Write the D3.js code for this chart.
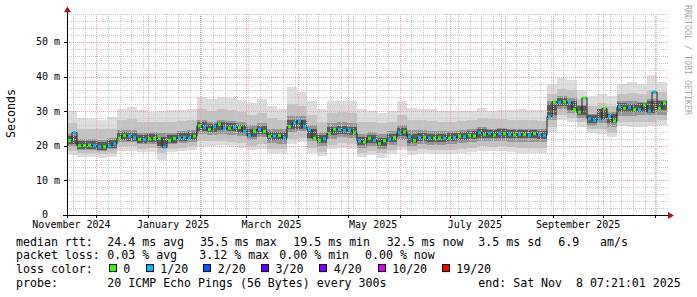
<!DOCTYPE html>
<html><head><meta charset="utf-8">
<script src="https://cdn.jsdelivr.net/npm/d3@7/dist/d3.min.js"></script>
<style>
html,body{margin:0;padding:0;background:#fff;}
svg text{font-family:"DejaVu Sans Mono",monospace;}
</style></head><body>
<svg id="chart" width="697" height="297"></svg>
<script>
// ---------------- data ----------------
const startTime = "2024-11-13T07:21:01Z";
const endTime = "2025-11-08T07:21:01Z";
const medianStepDays = 3;
const smokeStepDays = 6;

// median RTT (ms), one value per 3 days
const medianRtt = [
21.5,23.8,20.0,20.1,20.2,20.0,19.7,19.7,20.0,20.6,
22.2,23.0,22.9,22.3,21.9,21.8,22.0,22.1,22.2,19.6,
21.5,22.1,22.3,22.4,22.2,22.8,25.8,25.3,24.7,25.5,
26.3,25.0,25.1,25.4,25.3,24.2,23.0,24.3,24.8,24.2,
22.7,22.8,23.0,22.3,25.5,26.6,27.2,25.4,24.6,22.2,
21.5,22.0,23.6,24.8,24.7,24.4,24.6,23.8,21.4,21.1,
22.2,21.5,20.6,21.5,21.9,22.4,23.8,24.0,22.6,21.4,
22.4,22.5,22.2,22.2,22.3,22.2,22.2,22.4,22.8,22.6,
23.0,22.8,23.8,23.2,23.6,23.1,23.5,23.5,23.3,23.1,
23.3,23.2,23.1,23.5,23.2,23.0,28.5,32.7,32.5,32.7,
32.5,30.5,29.7,33.8,27.8,27.4,27.7,30.8,28.5,27.2,
31.2,30.8,31.2,30.5,30.5,31.8,30.0,35.5,30.8,32.5];

// loss class of each median value (index into lossColors)
const lossClass = [
0,1,0,0,0,1,1,0,1,1,0,0,1,1,0,1,0,0,0,1,0,0,1,1,1,0,0,1,0,1,
0,1,0,1,0,1,1,0,1,0,0,1,0,1,0,1,1,1,1,0,0,1,0,0,1,1,1,0,1,0,
0,1,0,0,1,0,1,0,1,0,1,0,1,0,0,1,0,1,0,1,0,0,1,0,1,0,1,0,1,0,
1,0,1,0,1,1,1,0,1,0,1,0,0,0,1,1,1,0,1,0,1,0,1,0,1,0,1,1,0,0];

// smoke envelopes (ms), one value per 6 days, outermost to innermost
const smokeMax = [30.0,27.9,27.8,27.6,28.2,30.5,31.3,30.3,29.9,30.0,30.3,30.3,30.5,34.0,33.5,34.0,33.8,33.3,32.5,33.5,31.5,30.5,37.0,35.5,33.0,30.5,33.0,33.0,33.0,30.5,30.0,29.5,30.0,33.0,31.0,30.5,30.5,30.0,30.0,30.2,30.2,31.0,30.2,30.3,30.3,30.5,30.3,30.3,38.0,39.5,39.0,36.0,34.5,35.0,34.5,38.0,38.5,38.0,40.5,38.5];
const smokeHigh = [26.5,25.0,25.0,24.8,25.0,27.5,27.8,27.0,27.0,27.0,27.0,27.2,27.5,30.5,30.0,30.5,30.3,29.8,29.0,29.5,28.0,27.5,32.0,31.5,29.0,27.0,29.5,29.8,29.5,27.0,26.8,26.5,27.0,29.0,27.5,27.5,27.3,27.0,27.0,27.3,27.5,28.0,27.8,27.8,27.6,27.6,27.5,27.3,35.0,36.5,36.0,33.5,31.5,32.5,31.5,35.0,35.3,35.0,36.0,35.5];
const smokeCoreHigh = [23.5,22.0,22.0,21.8,22.2,24.5,24.5,23.8,23.9,23.8,23.8,24.2,24.5,27.5,27.0,27.5,27.2,26.8,26.0,26.5,25.0,24.8,28.5,28.5,26.0,24.0,26.5,26.8,26.5,23.5,24.0,23.5,24.2,26.0,24.5,24.5,24.3,24.2,24.3,24.6,24.8,25.3,25.0,25.2,25.0,25.0,25.0,24.8,33.0,34.3,33.8,31.8,29.3,30.5,29.8,33.0,33.0,32.8,33.5,33.2];
const smokeInnerHigh = [22.8,21.3,21.3,21.0,21.6,23.9,23.8,23.1,23.3,22.6,23.1,23.6,23.9,26.8,26.4,26.9,26.6,26.0,25.0,25.8,24.0,24.0,27.5,27.6,24.9,23.0,25.5,25.8,25.4,22.6,23.0,22.3,23.4,25.1,23.3,23.7,23.5,23.5,23.6,24.0,24.2,24.8,24.6,24.8,24.5,24.5,24.6,24.4,32.2,33.9,32.9,31.5,29.0,30.6,29.3,32.3,32.1,32.4,33.0,33.0];
const smokeInnerLow = [20.5,19.1,19.1,18.8,19.3,21.6,21.5,20.9,21.0,20.0,20.8,21.3,21.6,24.4,24.0,24.5,24.2,23.6,22.6,23.4,21.7,21.6,24.8,25.0,22.2,20.7,23.0,23.5,23.0,20.2,20.8,20.0,21.1,22.7,20.9,21.4,21.2,21.2,21.3,21.7,21.9,22.4,22.3,22.4,22.2,22.2,22.3,22.0,29.0,31.5,30.3,28.8,26.5,27.8,26.5,29.9,29.7,29.9,29.5,30.3];
const smokeCoreLow = [20.0,18.8,18.8,18.5,19.0,21.2,21.0,20.5,20.6,19.5,20.4,20.8,21.0,23.5,23.2,23.5,23.2,22.8,21.8,22.5,20.8,20.6,24.0,24.2,21.5,20.0,22.0,22.5,22.2,19.5,20.0,19.2,20.3,21.8,20.0,20.5,20.3,20.3,20.4,20.8,21.0,21.5,21.3,21.5,21.2,21.2,21.2,21.0,27.5,30.5,29.5,28.0,25.8,26.5,25.5,28.5,28.5,28.8,28.8,29.0];
const smokeLow = [18.5,17.8,17.8,17.5,17.8,19.8,19.8,19.2,19.3,18.0,19.2,19.5,19.8,21.5,21.3,21.5,21.2,20.8,20.0,20.5,19.2,19.0,22.0,22.3,19.5,18.3,20.3,20.8,20.5,18.0,18.5,17.8,18.8,20.0,18.5,19.0,18.8,18.8,18.9,19.2,19.4,19.8,19.7,19.8,19.6,19.5,19.5,19.3,25.5,28.8,28.0,26.8,24.8,25.0,23.8,27.0,27.0,27.0,27.0,27.5];
const smokeMin = [17.3,16.7,16.7,16.6,16.8,18.6,18.5,18.2,18.3,16.0,18.3,18.5,18.8,20.0,19.8,20.2,20.0,19.5,18.8,19.2,18.0,17.8,20.5,21.0,18.0,17.0,19.0,19.5,19.2,16.8,17.2,16.5,17.5,18.8,17.3,17.8,17.5,17.5,17.7,18.0,18.2,18.5,18.4,18.5,18.2,18.0,17.9,17.8,24.0,27.5,26.8,25.5,23.8,23.5,22.5,25.8,25.5,25.5,25.8,26.0];

const yTicks = [0,10,20,30,40,50];
const yTickLabels = ["0","10 m","20 m","30 m","40 m","50 m"];
const xTickDates = ["2024-11-01","2025-01-01","2025-03-01","2025-05-01","2025-07-01","2025-09-01"];
const xTickLabels = ["November 2024","January 2025","March 2025","May 2025","July 2025","September 2025"];

const lossLabels = ["0","1/20","2/20","3/20","4/20","10/20","19/20"];
const lossColors = ["#26ff00","#00b8ff","#0059ff","#5e00ff","#7e00ff","#dd00ff","#ff0000"];

const statLabels = ["median rtt:","packet loss:","loss color:","probe:"];
const rttStats = ["24.4 ms avg","35.5 ms max","19.5 ms min","32.5 ms now","3.5 ms sd","6.9","am/s"];
const lossStats = ["0.03 % avg","3.12 % max","0.00 % min","0.00 % now"];
const probeText = "20 ICMP Echo Pings (56 Bytes) every 300s";
const endText = "end: Sat Nov  8 07:21:01 2025";
const yTitle = "Seconds";
const watermark = "RRDTOOL / TOBI OETIKER";

// ---------------- layout ----------------
const svg = d3.select("#chart");
const L = 67, R = 667, B = 215, T = 13.3;
const t0 = new Date(startTime), t1 = new Date(endTime);
const x = d3.scaleUtc().domain([t0, t1]).range([L, R]);
const y = d3.scaleLinear().domain([0, 58.3]).range([B, T]);
const DAY = 864e5;

const medT = medianRtt.map((d, i) => new Date(t0.getTime() + i * medianStepDays * DAY));
const smkT = smokeMax.map((d, i) => new Date(t0.getTime() + i * smokeStepDays * DAY));

// ---------------- smoke ----------------
const gSmoke = svg.append("g").attr("shape-rendering", "crispEdges");
function band(lo, hi, color) {
  const pts = smkT.map((t, i) => ({t, lo: lo[i], hi: hi[i]}));
  pts.push({t: t1, lo: lo[lo.length - 1], hi: hi[hi.length - 1]});
  const area = d3.area().curve(d3.curveStepAfter)
    .x(d => x(d.t)).y0(d => y(d.lo)).y1(d => y(d.hi));
  gSmoke.append("path").datum(pts).attr("d", area).attr("fill", color);
}
band(smokeMin, smokeMax, "#dddddd");
band(smokeLow, smokeHigh, "#c2c2c2");
band(smokeCoreLow, smokeCoreHigh, "#959595");
band(smokeInnerLow, smokeInnerHigh, "#5a5a5a");

// ---------------- grid ----------------
const gGrid = svg.append("g").attr("shape-rendering", "crispEdges");
const minorCol = "#c8c8c8", majorCol = "#e8a4a4";
d3.utcSunday.range(t0, t1).forEach(d => {
  const xx = Math.round(x(d)) + 0.5;
  gGrid.append("line").attr("x1", xx).attr("x2", xx).attr("y1", B).attr("y2", T)
    .attr("stroke", minorCol).attr("stroke-dasharray", "1,1");
});
d3.range(2, 58.3, 2).filter(v => v % 10 !== 0).forEach(v => {
  const yy = Math.round(y(v)) + 0.5;
  gGrid.append("line").attr("x1", L).attr("x2", R + 2).attr("y1", yy).attr("y2", yy)
    .attr("stroke", minorCol).attr("stroke-dasharray", "1,1");
});
d3.utcMonth.range(t0, t1).forEach(d => {
  const xx = Math.round(x(d)) + 0.5;
  gGrid.append("line").attr("x1", xx).attr("x2", xx).attr("y1", B).attr("y2", T)
    .attr("stroke", majorCol).attr("stroke-dasharray", "1,1");
});
yTicks.filter(v => v > 0).forEach(v => {
  const yy = Math.round(y(v)) + 0.5;
  gGrid.append("line").attr("x1", L).attr("x2", R + 2).attr("y1", yy).attr("y2", yy)
    .attr("stroke", majorCol).attr("stroke-dasharray", "1,1");
});

// ---------------- median ----------------
const medPts = medT.map((t, i) => ({t, v: medianRtt[i], c: lossClass[i]}));
const medLine = d3.line().curve(d3.curveStepAfter).x(d => x(d.t)).y(d => y(d.v));
svg.append("path").datum(medPts.concat([{t: t1, v: medianRtt[medianRtt.length - 1]}]))
  .attr("d", medLine).attr("fill", "none").attr("stroke", "#202020").attr("stroke-width", 1);
const stepW = x(medT[1]) - x(medT[0]);
svg.append("g").selectAll("line").data(medPts).join("line")
  .attr("x1", d => x(d.t) + 1).attr("x2", d => x(d.t) + stepW - 1)
  .attr("y1", d => y(d.v)).attr("y2", d => y(d.v))
  .attr("stroke", d => lossColors[d.c]).attr("stroke-width", 3);

// ---------------- axes ----------------
const gAx = svg.append("g").attr("shape-rendering", "crispEdges");
gAx.append("line").attr("x1", L - 4).attr("x2", R + 3).attr("y1", B + 0.5).attr("y2", B + 0.5).attr("stroke", "#000");
gAx.append("line").attr("x1", L + 0.5).attr("x2", L + 0.5).attr("y1", B + 3).attr("y2", T - 2).attr("stroke", "#000");
yTicks.forEach(v => {
  const yy = Math.round(y(v)) + 0.5;
  gAx.append("line").attr("x1", L - 3).attr("x2", L).attr("y1", yy).attr("y2", yy).attr("stroke", "#000");
});
d3.utcMonth.range(t0, t1).forEach(d => {
  const xx = Math.round(x(d)) + 0.5;
  gAx.append("line").attr("x1", xx).attr("x2", xx).attr("y1", B).attr("y2", B + 3).attr("stroke", "#000");
});
svg.append("path").attr("d", `M${R + 1},${B - 3} L${R + 7},${B + 0.5} L${R + 1},${B + 4} Z`).attr("fill", "#a01818");
svg.append("path").attr("d", `M${L - 3},${T - 1} L${L + 0.5},${T - 7} L${L + 4},${T - 1} Z`).attr("fill", "#a01818");

// tick labels ("0" carries no unit, so its right edge sits two characters further left)
svg.append("g").selectAll("text").data(yTicks).join("text")
  .attr("x", d => d === 0 ? 48 : 60).attr("y", d => y(d) + 3.3).attr("text-anchor", "end")
  .attr("font-size", "10px").attr("fill", "#000").text((d, i) => yTickLabels[i]);
svg.append("g").selectAll("text").data(xTickDates).join("text")
  .attr("x", d => x(new Date(new Date(d + "T00:00:00Z").getTime() + 15 * DAY)))
  .attr("y", 227.5).attr("text-anchor", "middle")
  .attr("font-size", "10px").attr("fill", "#000").text((d, i) => xTickLabels[i]);

svg.append("text").attr("transform", "translate(15,113.5) rotate(-90)")
  .attr("text-anchor", "middle").attr("font-size", "11.6px").attr("fill", "#000").text(yTitle);
svg.append("text").attr("transform", "translate(685,5) rotate(90)")
  .attr("text-anchor", "start").attr("font-size", "8.3px").attr("fill", "#aaaaaa").text(watermark);

// ---------------- legend ----------------
const fs = "11.6px";
const base = [245.5, 259.3, 273.1, 286.9];
const lg = svg.append("g").attr("font-size", fs).attr("fill", "#000");
statLabels.forEach((s, i) => lg.append("text").attr("x", 16).attr("y", base[i]).text(s));
const rttX = [107.3, 200, 293.3, 386.7, 478.3, 558.3, 600];
rttStats.forEach((s, i) => lg.append("text").attr("x", rttX[i]).attr("y", base[0]).text(s));
const lossX = [107.3, 199.3, 279.3, 365];
lossStats.forEach((s, i) => lg.append("text").attr("x", lossX[i]).attr("y", base[1]).text(s));
const boxX = [108.7, 145.7, 203.3, 261, 319.3, 377.7, 441.7];
lossLabels.forEach((s, i) => {
  lg.append("rect").attr("x", Math.round(boxX[i]) + 0.5).attr("y", base[2] - 8.5).attr("width", 7).attr("height", 7)
    .attr("fill", lossColors[i]).attr("stroke", "#000").attr("stroke-width", 1);
  lg.append("text").attr("x", boxX[i] + 14.5).attr("y", base[2]).text(s);
});
lg.append("text").attr("x", 107.3).attr("y", base[3]).text(probeText);
lg.append("text").attr("x", 478.3).attr("y", base[3]).attr("xml:space", "preserve").style("white-space", "pre").text(endText);
</script>
</body></html>
